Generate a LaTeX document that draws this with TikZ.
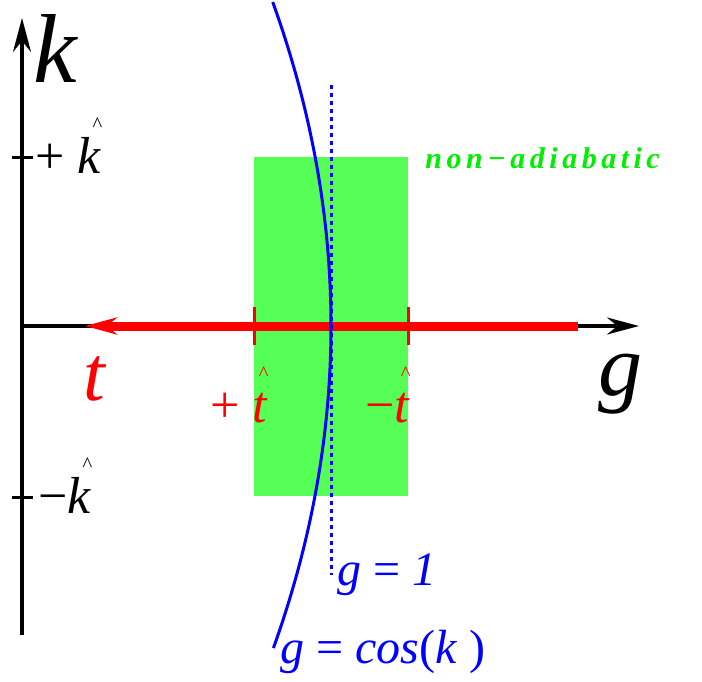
\documentclass[tikz,border=0pt]{standalone}
\usepackage{fontspec}
\setmainfont{Liberation Serif}[
  ItalicFont={Liberation Serif Italic},
  BoldItalicFont={Liberation Serif Bold Italic}]
\usepackage{xcolor}
\usepackage{graphicx}
\usetikzlibrary{arrows.meta}
\definecolor{ngreen}{RGB}{85,255,85}
\definecolor{tgreen}{RGB}{0,238,0}
% a letter with a small caret over its right half
\newcommand{\capped}[1]{#1\llap{\raisebox{0.8em}{\scalebox{0.4}{\textasciicircum}}}}

\begin{document}
\begin{tikzpicture}[
  x=0.5pt, y=-0.5pt,
  ax/.style={line width=1.6pt},
  tk/.style={line width=1.5pt},
  big/.style={anchor=base west, inner sep=0pt, font=\itshape},
  lbl/.style={anchor=base west, inner sep=0pt, font=\fontsize{26}{28}\selectfont},
  blbl/.style={anchor=base west, inner sep=0pt, text=blue, font=\fontsize{24}{26}\selectfont},
]
  \useasboundingbox (0,0) rectangle (702,681);
  % NON-ADIABATIC REGION
  \coordinate (reg-nw) at (254,157);
  \coordinate (reg-se) at (408,496);
  \fill[ngreen] (reg-nw) rectangle (reg-se);
  \node[anchor=base west, inner sep=0pt, text=tgreen,
        font=\fontsize{15}{17}\selectfont\bfseries\itshape\addfontfeatures{LetterSpace=15}]
        (nonad) at (425,168) {non\,−adiabatic};
  % AXES
  \coordinate (O) at (22,326);
  \coordinate (k-bot) at (22,635);
  \coordinate (k-top) at (22,18);
  \coordinate (g-end) at (639,326);
  \draw[ax, -{Stealth[length=17pt,width=9pt]}] (k-bot) -- (k-top);
  \draw[ax, -{Stealth[length=16pt,width=8.5pt]}] (O) -- (g-end);
  \draw[tk] (12,157) -- (33,157);
  \draw[tk] (12,497) -- (33,497);
  \node[big, font=\fontsize{49}{51}\selectfont\itshape] (k-lbl) at (33,82) {k};
  \node[big, font=\fontsize{44}{46}\selectfont\itshape] (g-lbl) at (598,395) {g};
  \node[lbl] (kp) at (35,173) {+ \textit{\capped{k}}};
  \node[lbl] (km) at (38,513) {−\textit{\capped{k}}};
  % TIME ARROW
  \coordinate (t-start) at (578,326);
  \coordinate (t-end) at (85,326);
  \draw[red, line width=4.5pt, -{Stealth[length=16pt,width=8.5pt]}] (t-start) -- (t-end);
  \draw[red, tk] (254,307) -- (254,345);
  \draw[red, tk] (408,307) -- (408,345);
  \node[big, text=red, font=\fontsize{39}{41}\selectfont\itshape] (t-lbl) at (83,400) {t};
  \node[lbl, text=red] (tp) at (210,422) {+ \textit{\capped{t}}};
  \node[lbl, text=red] (tm) at (365,422) {−\textit{\capped{t}}};
  % CURVES
  \draw[blue, line width=1.5pt, dash pattern=on 2pt off 2pt] (331,85) -- (331,575);
  \draw[blue, line width=1.5pt] plot[domain=2:648, samples=80] ({331-59*((\x-326)/326)^2}, \x);
  \node[blbl] (g-one) at (337,585) {\textit{g} = \textit{1}};
  \node[blbl] (g-cos) at (280,663) {\textit{g} = \textit{cos}(\textit{k} )};
\end{tikzpicture}
\end{document}
